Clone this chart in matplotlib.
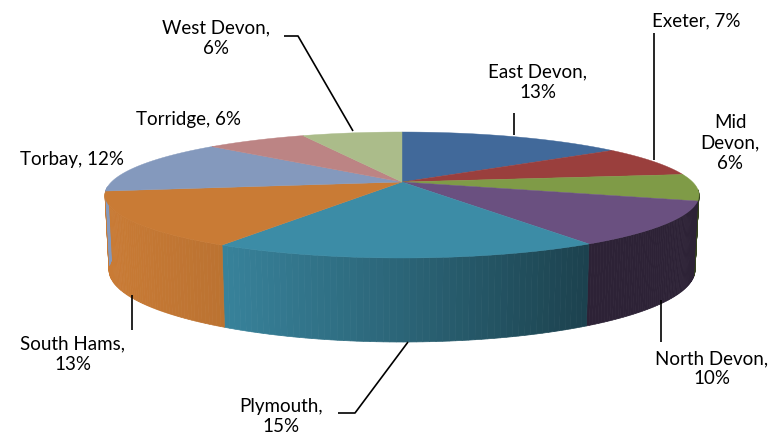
import numpy as np
import matplotlib.pyplot as plt
from matplotlib.patches import Polygon

# districts, in drawing order (clockwise from the top)
districts = ['East Devon', 'Exeter', 'Mid Devon', 'North Devon', 'Plymouth',
             'South Hams', 'Torbay', 'Torridge', 'West Devon']
percent_labels = [13, 7, 6, 10, 15, 13, 12, 6, 6]
# slice sizes as drawn in the picture, degrees
slice_degrees = [45, 26, 24.5, 45.5, 76.3, 56.3, 46.6, 20.3, 19.5]
slice_colors = ['#41699a', '#9a3f3d', '#7f9b47', '#6a5080', '#3c8ca6',
                '#c97b35', '#8499bd', '#bc8484', '#abbc8a']

# label text layout: x, y of the first line, how the name is wrapped
label_pos = [(538, 72), (696, 21), (730, 123), (712, 359), (281, 407),
             (73, 344), (72, 160), (188, 120), (216, 28)]
label_fmt = ['{0},\n{1}%', '{0}, {1}%', 'Mid\nDevon,\n{1}%', '{0},\n{1}%', '{0},\n{1}%',
             '{0},\n{1}%', '{0}, {1}%', '{0}, {1}%', '{0},\n{1}%']
leaders = [[(514, 135), (514, 113)],
           [(654, 160), (654, 33)],
           [(661, 300), (661, 342)],
           [(408, 342), (355, 413), (338, 413)],
           [(132, 295), (132, 330)],
           [(353, 131), (298, 36), (284, 36)]]

plt.rcParams['font.family'] = ['Lato', 'DejaVu Sans']

fig = plt.figure(figsize=(7.8, 4.45), dpi=100)
ax = fig.add_axes([0, 0, 1, 1])
ax.set_xlim(0, 780)
ax.set_ylim(445, 0)
ax.axis('off')


def top_rim(t):
    return 402 + 297 * np.sin(t), 195 - 63 * np.cos(t)


def bottom_rim(t):
    return 402 + 293 * np.sin(t), 270 - 72 * np.cos(t)


def shade(x):
    return np.interp(x, [106, 222, 400, 589, 590, 700], [1.0, 0.93, 0.72, 0.47, 0.42, 0.42])


apex = (402, 182)
edges = np.radians(np.concatenate([[0], np.cumsum(slice_degrees)]))

# side wall, thin strips so the shading can change along it
for i, col in enumerate(slice_colors):
    rgb = np.array(plt.matplotlib.colors.to_rgb(col))
    ts = np.linspace(edges[i], edges[i + 1], 60)
    ts = ts[(ts > np.radians(85)) & (ts < np.radians(278))]
    for a, b in zip(ts[:-1], ts[1:]):
        xa, ya = top_rim(a)
        xb, yb = top_rim(b)
        xc, yc = bottom_rim(b)
        xd, yd = bottom_rim(a)
        c = rgb * shade((xa + xb) / 2)
        ax.add_patch(Polygon([(xa, ya), (xb, yb), (xc, yc), (xd, yd)], closed=True,
                             facecolor=c, edgecolor=c, lw=0.5))

# top face
for i, col in enumerate(slice_colors):
    ts = np.linspace(edges[i], edges[i + 1], 80)
    xs, ys = top_rim(ts)
    pts = [apex] + list(zip(xs, ys))
    ax.add_patch(Polygon(pts, closed=True, facecolor=col, edgecolor=col, lw=0.3))

for line in leaders:
    xs, ys = zip(*line)
    ax.plot(xs, ys, color='black', lw=1.2, solid_capstyle='butt')

for name, pct, pos, fmt in zip(districts, percent_labels, label_pos, label_fmt):
    ax.text(pos[0], pos[1] - 9, fmt.format(name, pct), ha='center', va='top',
            fontsize=13.5, color='black', linespacing=1.25, multialignment='center')

fig.savefig('out.png', dpi=100)
